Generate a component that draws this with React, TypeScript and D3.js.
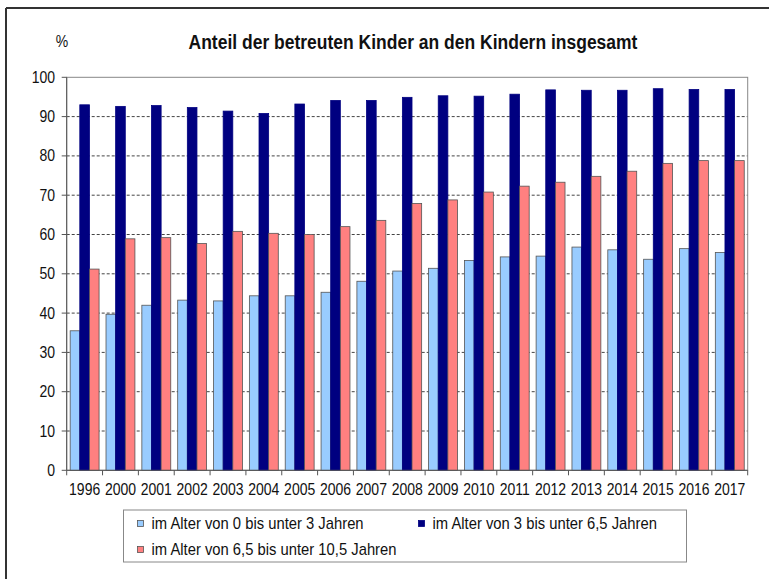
import React from "react";
import * as d3 from "d3";

const years = ["1996","2000","2001","2002","2003","2004","2005","2006","2007","2008","2009","2010","2011","2012","2013","2014","2015","2016","2017"];
const age0to3 = [35.5,39.7,42.0,43.3,43.1,44.4,44.4,45.3,48.1,50.7,51.4,53.4,54.3,54.5,56.8,56.1,53.7,56.4,55.4];
const age3to65 = [93.0,92.6,92.8,92.3,91.4,90.8,93.2,94.1,94.1,94.9,95.3,95.2,95.7,96.8,96.7,96.7,97.1,96.9,96.9];
const age65to105 = [51.2,58.9,59.2,57.7,60.8,60.3,60.0,62.0,63.6,67.9,68.8,70.8,72.3,73.3,74.8,76.1,78.1,78.8,78.8];
const yTicks = [0,10,20,30,40,50,60,70,80,90,100];
const seriesNames = ["im Alter von 0 bis unter 3 Jahren","im Alter von 3 bis unter 6,5 Jahren","im Alter von 6,5 bis unter 10,5 Jahren"];
const seriesColors = ["#99CCFF","#000080","#FF8080"];
const title = "Anteil der betreuten Kinder an den Kindern insgesamt";

function T(props: { x: number; y: number; size: number; anchor?: string; bold?: boolean; children: React.ReactNode; sy?: number }) {
  const sy = props.sy ?? 1.15;
  return (
    <text transform={`translate(${props.x},${props.y}) scale(1,${sy})`} fontSize={props.size}
      textAnchor={props.anchor ?? "start"} fontWeight={props.bold ? "bold" : "normal"} fill="#111">
      {props.children}
    </text>
  );
}

export default function App() {
  const W = 769, H = 579;
  const left = 66.7, right = 747.7, top = 77.3, bottom = 470.3;
  const font = "'Liberation Sans', Arial, sans-serif";
  const x = d3.scaleBand<string>().domain(years).range([left, right]).paddingInner(0).paddingOuter(0);
  const xs = d3.scaleBand<number>().domain([0,1,2]).range([0, x.bandwidth()]).paddingInner(0).paddingOuter(0.36);
  const y = d3.scaleLinear().domain([0,100]).range([bottom, top]);
  const series = [age0to3, age3to65, age65to105];

  return (
    <svg width={W} height={H} style={{position:"absolute", left:0, top:0, background:"#fff"}} fontFamily={font}>
      <rect x={0} y={0} width={W} height={H} fill="#fff" />
      {/* outer frame */}
      <line x1={6} y1={8} x2={W} y2={8} stroke="#333" strokeWidth={2} />
      <line x1={6} y1={8} x2={6} y2={H} stroke="#333" strokeWidth={2} />
      <T x={62} y={47} size={14} anchor="middle">%</T>
      <T x={413} y={49} size={17.5} anchor="middle" bold>{title}</T>
      {/* gridlines */}
      {yTicks.filter(t => t > 0 && t < 100).map(t => (
        <line key={t} x1={left} x2={right} y1={y(t)} y2={y(t)} stroke="#444" strokeWidth={1} strokeDasharray="3,2" />
      ))}
      {/* plot border */}
      <rect x={left} y={top} width={right-left} height={bottom-top} fill="none" stroke="#888" strokeWidth={1} />
      {/* bars */}
      {years.map((yr, i) => (
        <g key={yr}>
          {series.map((s, k) => (
            <rect key={k} x={(x(yr) as number) + (xs(k) as number)} y={y(s[i])} width={xs.bandwidth()} height={bottom - y(s[i])}
              fill={seriesColors[k]} stroke={k === 1 ? "#000080" : "#555"} strokeWidth={0.8} />
          ))}
        </g>
      ))}
      {/* axes */}
      <line x1={left} x2={left} y1={top} y2={bottom} stroke="#555" strokeWidth={1} />
      <line x1={left} x2={right} y1={bottom} y2={bottom} stroke="#555" strokeWidth={1} />
      {yTicks.map(t => (
        <g key={t}>
          <line x1={left-5} x2={left} y1={y(t)} y2={y(t)} stroke="#555" />
          <T x={55} y={y(t)+5.5} size={14} anchor="end">{t}</T>
        </g>
      ))}
      {years.map(yr => (
        <line key={"t"+yr} x1={x(yr) as number} x2={x(yr) as number} y1={bottom} y2={bottom+5} stroke="#555" />
      ))}
      <line x1={right} x2={right} y1={bottom} y2={bottom+5} stroke="#555" />
      {years.map(yr => (
        <T key={"l"+yr} x={(x(yr) as number) + x.bandwidth()/2} y={494.5} size={14} anchor="middle">{yr}</T>
      ))}
      {/* legend */}
      <rect x={123.5} y={510} width={563} height={52} fill="#fff" stroke="#888" strokeWidth={1} />
      {[
        {k:0, mx:137.5, my:523.5},
        {k:1, mx:418.5, my:523.5},
        {k:2, mx:137.5, my:549.5},
      ].map(({k, mx, my}) => (
        <g key={k}>
          <rect x={mx} y={my-3} width={6} height={6} fill={seriesColors[k]} stroke={k===1?"#000080":"#555"} strokeWidth={0.8} />
          <T x={mx+14} y={my+5.5} size={14.8}>{seriesNames[k]}</T>
        </g>
      ))}
    </svg>
  );
}
